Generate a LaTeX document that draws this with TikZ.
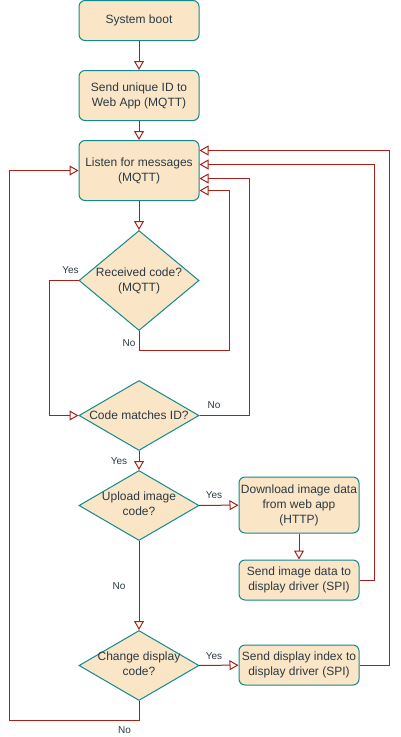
\documentclass[tikz,border=0pt]{standalone}
\usepackage{fontspec}
\setmainfont{Liberation Sans}
\usetikzlibrary{arrows.meta,shapes.geometric,calc}
\definecolor{boxfill}{HTML}{FAE5C7}
\definecolor{boxline}{HTML}{0F8B8D}
\definecolor{txt}{HTML}{2B3A42}
\definecolor{edge}{HTML}{A8201A}
\tikzset{
  box/.style={draw=boxline, fill=boxfill, line width=1pt, rounded corners=6pt,
    minimum width=120pt, inner sep=0pt, align=center, text=txt,
    font=\fontsize{12pt}{15pt}\selectfont},
  dia/.style={draw=boxline, fill=boxfill, line width=1pt, diamond, inner sep=0pt,
    minimum width=120pt},
  diatext/.style={text=txt, align=center, font=\fontsize{12pt}{15pt}\selectfont},
  flow/.style={draw=edge, line width=1pt,
    -{Triangle[open, length=9pt, width=10pt]}},
  elab/.style={text=txt, font=\fontsize{10pt}{12pt}\selectfont, inner sep=0pt}
}
\begin{document}
\begin{tikzpicture}[x=1pt, y=-1pt]
\useasboundingbox (0,0) rectangle (400,737);
% process boxes
\node[box, minimum height=40pt] (boot) at (139,20.5) {System boot};
\node[box, minimum height=50pt] (sendid) at (139,95.5) {Send unique ID to\\Web App (MQTT)};
\node[box, minimum height=60pt] (listen) at (139,170.5) {Listen for messages\\(MQTT)};
\node[box, minimum height=56pt] (dl) at (299,505) {Download image data\\from web app\\(HTTP)};
\node[box, minimum height=40pt] (simg) at (299,580) {Send image data to\\display driver (SPI)};
\node[box, minimum height=40pt] (sidx) at (299,665) {Send display index to\\display driver (SPI)};
% decisions
\node[dia, minimum height=100pt, label={[diatext]center:Received code?\\(MQTT)}] (d1) at (139,280.5) {};
\node[dia, minimum height=70pt, label={[diatext]center:Code matches ID?}] (d2) at (139,415.5) {};
\node[dia, minimum height=70pt, label={[diatext, yshift=2pt]center:Upload image\\code?}] (d3) at (139,505.5) {};
\node[dia, minimum height=70pt, label={[diatext, yshift=2pt]center:Change display\\code?}] (d4) at (139,665.5) {};
% bend points
\coordinate (b1) at (229.5,350.5);
\coordinate (b2) at (49.5,280.5);
\coordinate (b3) at (249.5,415.5);
\coordinate (b4) at (374.5,580);
\coordinate (b5) at (389.5,665);
\coordinate (b6) at (139,720.5);
\coordinate (b7) at (9.5,720.5);
% connectors
\draw[flow] (boot) -- (sendid);
\draw[flow] (sendid) -- (listen);
\draw[flow] (listen) -- (d1);
\draw[flow] (d1.south) |- (b1) |- ([yshift=-20pt]listen.east);
\draw[flow] (d1.west) -- (b2) |- (d2.west);
\draw[flow] (d2.east) -- (b3) |- ([yshift=-8pt]listen.east);
\draw[flow] (d2) -- (d3);
\draw[flow] (d3) -- (dl);
\draw[flow] (d3) -- (d4);
\draw[flow] (dl) -- (simg);
\draw[flow] (simg.east) -- (b4) |- ([yshift=6pt]listen.east);
\draw[flow] (d4) -- (sidx);
\draw[flow] (sidx.east) -- (b5) |- ([yshift=20pt]listen.east);
\draw[flow] (d4.south) -- (b6) -- (b7) |- (listen.west);
% edge labels
\node[elab] (l1) at (70.5,270.5) {Yes};
\node[elab] (l2) at (129,343) {No};
\node[elab] (l3) at (214,405) {No};
\node[elab] (l4) at (119,461) {Yes};
\node[elab] (l5) at (214,495.5) {Yes};
\node[elab] (l6) at (119,586) {No};
\node[elab] (l7) at (214,656) {Yes};
\node[elab] (l8) at (124.5,730) {No};
\end{tikzpicture}
\end{document}
